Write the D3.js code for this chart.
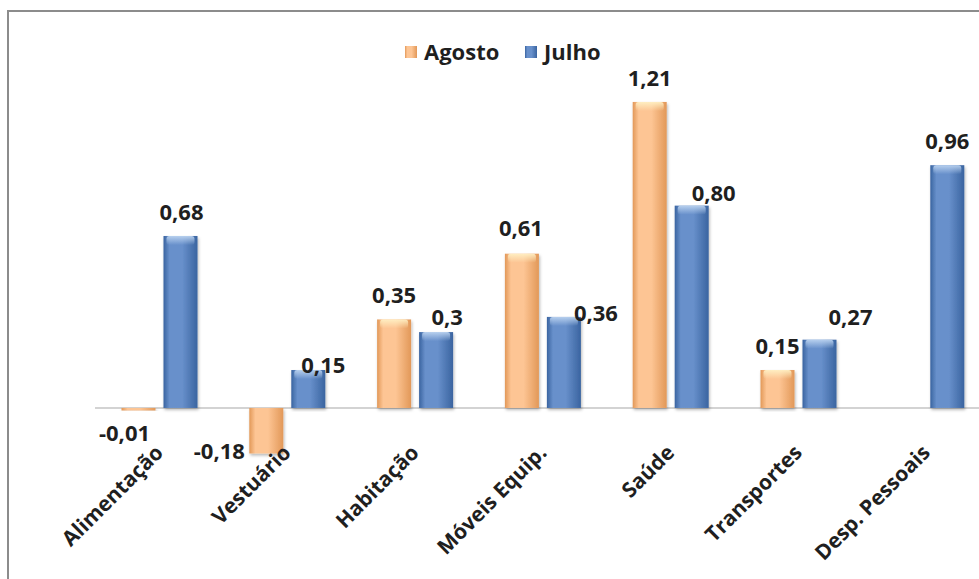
<!DOCTYPE html>
<html>
<head>
<meta charset="utf-8">
<script src="https://cdn.jsdelivr.net/npm/d3@7"></script>
<style>
  html, body { margin: 0; padding: 0; background: #ffffff; }
  svg { display: block; }
  text { font-family: "Open Sans", "Liberation Sans", sans-serif; font-weight: 700; fill: #1f1f1f; }
</style>
</head>
<body>
<svg id="chart" width="979" height="579"></svg>
<script>
// Variação mensal por grupo de despesa (%)
const categories = ["Alimentação", "Vestuário", "Habitação", "Móveis Equip.", "Saúde", "Transportes", "Desp. Pessoais"];
const seriesNames = ["Agosto", "Julho"];
const agosto = [-0.01, -0.18, 0.35, 0.61, 1.21, 0.15, null];
const julho  = [0.68, 0.15, 0.30, 0.36, 0.80, 0.27, 0.96];
const agostoLabels = ["-0,01", "-0,18", "0,35", "0,61", "1,21", "0,15", null];
const julhoLabels  = ["0,68", "0,15", "0,3", "0,36", "0,80", "0,27", "0,96"];

// Manual nudges for data-label placement [dx, dy] from the bar end
const agostoNudge = [[-14, 22], [-47, -3], [0, -25], [-1, -27], [0, -25], [0, -25], [0, 0]];
const julhoNudge  = [[1, -25], [15, -6], [11, -16], [32, -5], [22, -14], [31, -24], [0, -25]];

const svg = d3.select("#chart");
const W = 979, H = 579;

const colors = {
  Agosto: { edge: "#E29858", mid: "#FDC594", top: "#FFF0C4" },
  Julho:  { edge: "#3A64A0", mid: "#6890CB", top: "#BBD3F0" }
};

const defs = svg.append("defs");
seriesNames.forEach(s => {
  const g = defs.append("linearGradient").attr("id", "grad-" + s)
    .attr("x1", "0%").attr("x2", "100%").attr("y1", "0%").attr("y2", "0%");
  g.append("stop").attr("offset", "0%").attr("stop-color", colors[s].edge);
  g.append("stop").attr("offset", "18%").attr("stop-color", colors[s].mid);
  g.append("stop").attr("offset", "55%").attr("stop-color", colors[s].mid);
  g.append("stop").attr("offset", "100%").attr("stop-color", colors[s].edge);
  const t = defs.append("linearGradient").attr("id", "cap-" + s)
    .attr("x1", "0%").attr("x2", "0%").attr("y1", "0%").attr("y2", "100%");
  t.append("stop").attr("offset", "0%").attr("stop-color", colors[s].top).attr("stop-opacity", 0.95);
  t.append("stop").attr("offset", "100%").attr("stop-color", colors[s].top).attr("stop-opacity", 0);
});
const shadow = defs.append("filter").attr("id", "shadow")
  .attr("x", "-20%").attr("y", "-5%").attr("width", "140%").attr("height", "115%");
shadow.append("feDropShadow").attr("dx", 1).attr("dy", 2).attr("stdDeviation", 1.5)
  .attr("flood-color", "#000").attr("flood-opacity", 0.28);

// Chart frame
svg.append("rect").attr("x", 8).attr("y", 11).attr("width", W + 20).attr("height", H + 20)
  .attr("fill", "#ffffff").attr("stroke", "#8c8c8c").attr("stroke-width", 2);

// Scales
const x0 = d3.scaleBand().domain(categories).range([95.6, 990.2]).padding(0);
const bw = x0.bandwidth();
const x1 = d3.scaleBand().domain(seriesNames)
  .range([bw / 2 - 38, bw / 2 + 38]).paddingInner(8 / 42).paddingOuter(0);
const y = d3.scaleLinear().domain([-0.6, 1.4]).range([559.7, 53.9]);

// Zero line
svg.append("line")
  .attr("x1", 95).attr("x2", W).attr("y1", y(0)).attr("y2", y(0))
  .attr("stroke", "#c4c4c4").attr("stroke-width", 1.5);

const rows = [];
categories.forEach((c, i) => {
  rows.push({ cat: c, s: "Agosto", v: agosto[i], label: agostoLabels[i], nudge: agostoNudge[i] });
  rows.push({ cat: c, s: "Julho", v: julho[i], label: julhoLabels[i], nudge: julhoNudge[i] });
});
const present = rows.filter(d => d.v !== null);

const bars = svg.append("g");
bars.selectAll("rect.bar").data(present).join("rect")
  .attr("class", "bar")
  .attr("x", d => x0(d.cat) + x1(d.s))
  .attr("width", x1.bandwidth())
  .attr("y", d => Math.min(y(d.v), y(0)))
  .attr("height", d => Math.max(Math.abs(y(d.v) - y(0)), 1.5))
  .attr("fill", d => "url(#grad-" + d.s + ")")
  .attr("filter", "url(#shadow)");

// Bevelled highlight at the end of each bar
bars.selectAll("rect.cap").data(present.filter(d => d.v > 0.05)).join("rect")
  .attr("class", "cap")
  .attr("x", d => x0(d.cat) + x1(d.s) + 3)
  .attr("width", x1.bandwidth() - 6)
  .attr("y", d => y(d.v))
  .attr("height", 9)
  .attr("rx", 3)
  .attr("fill", d => "url(#cap-" + d.s + ")");

// Data labels
svg.append("g").selectAll("text").data(present).join("text")
  .attr("x", d => x0(d.cat) + x1(d.s) + x1.bandwidth() / 2 + d.nudge[0])
  .attr("y", d => y(d.v) + d.nudge[1])
  .attr("text-anchor", "middle")
  .attr("dominant-baseline", "central")
  .attr("font-size", 22)
  .text(d => d.label);

// Category axis labels
svg.append("g").selectAll("text").data(categories).join("text")
  .attr("transform", c => `translate(${x0(c) + bw / 2 + 5},${y(0) + 46}) rotate(-45)`)
  .attr("text-anchor", "end")
  .attr("font-size", 21)
  .text(c => c);

// Legend
const legend = svg.append("g");
const legendItems = [{ s: "Agosto", x: 405 }, { s: "Julho", x: 525 }];
legendItems.forEach(it => {
  legend.append("rect").attr("x", it.x).attr("y", 46).attr("width", 12).attr("height", 12)
    .attr("fill", "url(#grad-" + it.s + ")");
  legend.append("text").attr("x", it.x + 19).attr("y", 60).attr("font-size", 22).text(it.s);
});
</script>
</body>
</html>
